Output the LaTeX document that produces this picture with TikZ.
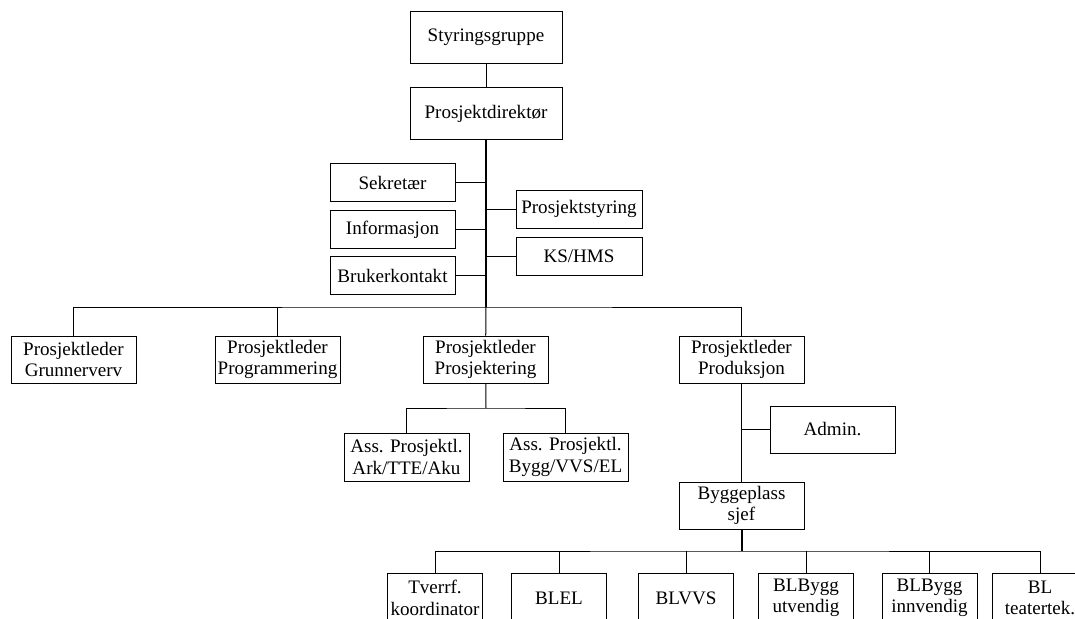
\documentclass[tikz,border=0pt]{standalone}
\usepackage{fontspec}
\setmainfont{Liberation Serif}

\begin{document}
\begin{tikzpicture}[x=0.75pt, y=-0.75pt, line width=0.75pt,
    box/.style={draw, fill=white, inner sep=1pt, align=center,
        minimum width=93.75pt, minimum height=35.25pt,
        font=\fontsize{14.3}{16}\selectfont},
    side/.style={box, minimum height=28.5pt},
    leaf/.style={box, minimum width=71.25pt, minimum height=37.5pt},
    spine/.style={line width=1.5pt}]
        \useasboundingbox (0,0) rectangle (1075,618);

        % Top.
        \node[box, minimum width=114pt, minimum height=39pt] (sg) at (486,37) {Styringsgruppe};
        \node[box, minimum width=114pt, minimum height=39.5pt] (pd) at (486,113.5) {Prosjektdirektør};
        \draw (sg) -- (pd);

        % Staff.
        \node[side] (sek) at (392.5,182.5) {Sekretær};
        \node[side] (inf) at (392.5,229.5) {Informasjon};
        \node[side] (bk) at (392.5,275.5) {Brukerkontakt};
        \node[side, minimum width=94.5pt] (ps) at (579,209) {Prosjektstyring};
        \node[side, minimum width=94.5pt] (ks) at (579,256.5) {KS/HMS};

        % Project leaders.
        \node[box] (plg) at (73.5,359.5) {Prosjektleder\\Grunnerverv};
        \node[box] (plp) at (277.5,359.5) {Prosjektleder\\Programmering};
        \node[box] (plk) at (485.5,359.5) {Prosjektleder\\Prosjektering};
        \node[box] (pls) at (741.5,359.5) {Prosjektleder\\Produksjon};

        \coordinate (bus) at (486,307);
        \draw[spine] (pd) -- (bus);
        \foreach \n in {sek,inf,bk,ps,ks} {\draw (\n) -- (\n -| pd);}
        \draw (plg.north) |- (bus) -| (pls.north);
        \draw (plp.north) -- (plp.north |- bus);
        \draw (bus) -- (plk);

        % Assistants.
        \node[box, minimum height=36pt] (ass1) at (406.5,457) {Ass. Prosjektl.\\Ark/TTE/Aku};
        \node[box, minimum height=36pt] (ass2) at (565.5,457) {Ass. Prosjektl.\\Bygg/VVS/EL};
        \coordinate (abus) at (486,408);
        \draw (plk) -- (abus);
        \draw (ass1.north) |- (abus) -| (ass2.north);

        % Production.
        \node[box] (adm) at (832.5,429.5) {Admin.};
        \node[box] (bps) at (741.5,505.5) {Byggeplass\\sjef};
        \draw (pls) -- (bps);
        \draw (adm) -- (adm -| pls);

        \node[leaf] (b1) at (435,598) {Tverrf.\\koordinator};
        \node[leaf] (b2) at (559,598) {BLEL};
        \node[leaf] (b3) at (686,598) {BLVVS};
        \node[leaf] (b4) at (806,598) {BLBygg\\utvendig};
        \node[leaf] (b5) at (929.5,598) {BLBygg\\innvendig};
        \node[leaf] (b6) at (1040,598) {BL\\teatertek.};
        \coordinate (bbus) at (741.5,551);
        \draw[spine] (bps) -- (bbus);
        \draw (b1.north) |- (bbus) -| (b6.north);
        \foreach \n in {b2,b3,b4,b5} {\draw (\n.north) -- (\n.north |- bbus);}
    \end{tikzpicture}
\end{document}
